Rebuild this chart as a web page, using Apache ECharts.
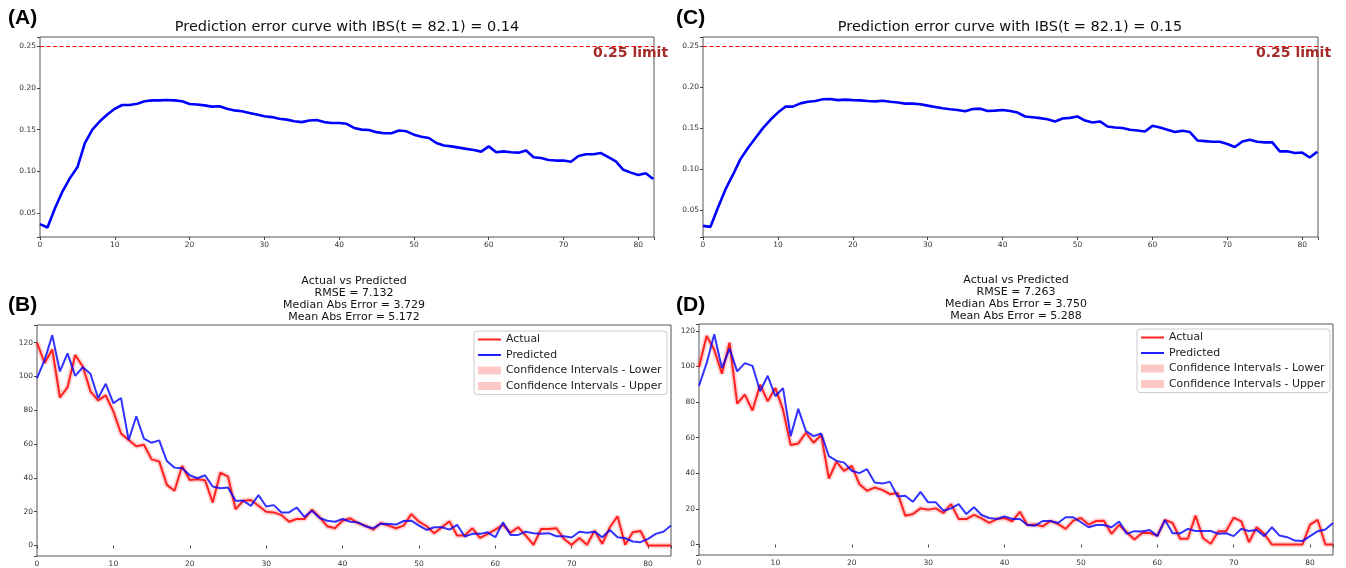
<!DOCTYPE html>
<html><head><meta charset="utf-8">
<script src="https://cdn.jsdelivr.net/npm/echarts@6/dist/echarts.min.js"></script>
<style>html,body{margin:0;padding:0;background:#fff}#c{width:1346px;height:568px}</style>
</head><body><div id="c"></div>
<script>
// ---------- DATA ----------
// Panel A / C : prediction error curve (time 0..82)
const ibsA = [0.037,0.033,0.056,0.076,0.092,0.105,0.134,0.150,0.160,0.168,0.175,0.1795,0.1795,0.181,0.184,0.185,0.185,0.1855,0.185,0.184,0.1807,0.180,0.179,0.1775,0.178,0.175,0.173,0.172,0.170,0.168,0.166,0.165,0.163,0.162,0.160,0.159,0.161,0.1615,0.159,0.158,
0.158,0.157,0.152,0.150,0.1496,0.147,0.1456,0.1456,0.149,0.148,0.144,0.1416,0.140,0.134,0.131,0.130,0.1285,0.127,0.1257,0.1237,0.130,0.123,0.124,0.123,0.1225,0.125,0.117,0.116,0.1137,0.113,0.113,0.1117,0.1185,0.1205,0.1205,0.122,0.117,0.112,0.102,0.0986,0.0958,0.0978,0.091];
const ibsC = [0.0306,0.0294,0.053,0.075,0.093,0.112,0.1256,0.1377,0.1498,0.160,0.1688,0.176,0.176,0.180,0.182,0.183,0.185,0.1854,0.184,0.1846,0.184,0.1837,0.183,0.1825,0.1833,0.182,0.181,0.1797,0.1797,0.179,0.1773,0.1757,0.174,0.1728,0.172,0.1704,0.1732,0.1736,0.1708,0.1712,
0.172,0.1708,0.1688,0.164,0.163,0.162,0.1607,0.158,0.1615,0.1623,0.164,0.159,0.1567,0.158,0.1518,0.1506,0.150,0.1478,0.147,0.1458,0.1526,0.1506,0.1478,0.145,0.1466,0.145,0.1348,0.134,0.1332,0.1332,0.1304,0.1268,0.1336,0.1357,0.1332,0.1324,0.1324,0.1215,0.1215,0.1195,0.120,0.114,0.121];
const limitValue = 0.25;

// Panel B / D : actual vs predicted (time 0..83)
const actualB = [120,108,116,87.6,93.7,112.7,105.9,91.2,85.9,88.8,79.4,66.3,62.4,58.8,59.6,51,49.8,35.9,32.4,47.1,38.8,39.2,38.6,25.5,43.1,40.8,21.5,26.5,26.9,23.5,20,19.6,18,14.1,15.7,15.7,21.2,16.7,11.4,10.2,14.7,16.1,13.3,11.8,9.4,13.3,11.8,10.2,11.8,18.6,14.1,11.4,7.3,10.8,14.3,5.9,5.9,10.2,4.5,6.9,9.4,12.2,7.6,10.8,5.9,0.4,9.8,9.8,10.2,3.9,0.4,4.5,0.4,8.8,1,10.8,17.3,0.4,7.8,8.6,0,0,0,0];
const predB = [99,109.8,124.5,103,113.7,100.4,105.5,101.6,87.3,95.7,84.3,87.3,62.4,76.5,63.3,60.8,62.2,50,46.1,45.7,41.6,39.8,41.6,34.9,33.9,34.3,26.5,26.5,23.5,29.8,23.1,23.9,19.6,19.6,22.5,16.9,20.6,16.3,14.7,14.1,15.7,14.1,13.7,11.4,10.2,12.9,12.7,12.4,14.5,14.7,11.8,9.2,10.8,10.8,9.4,12.2,5.3,6.9,6.9,7.8,4.9,13.7,6.3,6.3,8.2,7.3,6.9,7.3,5.5,5.5,4.7,8.2,7.6,8.2,4.9,9.2,4.9,4.3,2.4,2,3.9,6.9,8.2,11.8];
const actualD = [99.7,117.2,109.4,96,113.5,79.2,84.2,75.3,89.8,80.5,87.9,75.8,55.9,56.8,62.8,57.2,61.5,37.1,46.4,41.4,44.2,33.9,30.2,32,30.7,28.3,28.9,16.2,17.1,20.3,19.6,20.3,17.7,22.7,14.3,14.3,16.6,14.7,12.1,14.3,14.9,13,18.4,11,11.2,10.2,13.2,11.6,8.8,13.4,14.9,11.2,13.2,13.4,6,11,6.9,2.8,6.5,6.5,5,13.8,12.1,3.2,3.2,16.2,3.5,0.4,7.5,7.5,15.1,13,1.3,9.7,6,0,0,0,0,0,11.2,13.8,0,0];
const predD = [89.2,101.9,118.1,99.1,110.1,97.3,101.9,100.4,86.1,94.8,83.3,87.9,60.9,76.2,63.7,60.9,62.4,49.7,47,46,41.4,40.1,42.3,34.8,34.3,35.2,27,27.4,24,29.6,23.7,23.7,19,20.3,22.7,17.1,20.9,16.6,14.9,14.3,15.8,14.3,14.3,11,10.6,13.2,13.2,12.1,15.3,15.3,12.5,9.7,11,11,9.7,12.9,6,7.5,7.3,8.2,4.7,13.8,6.3,6.3,8.8,7.6,7.6,7.6,6,6.3,4.7,8.8,7.6,8.2,4.7,9.7,5,4.1,2.2,1.9,4.7,7.5,8.4,12.1];

// Text
const titleA = 'Prediction error curve with IBS(t = 82.1) = 0.14';
const titleC = 'Prediction error curve with IBS(t = 82.1) = 0.15';
const titleB = ['Actual vs Predicted','RMSE = 7.132','Median Abs Error = 3.729','Mean Abs Error = 5.172'];
const titleD = ['Actual vs Predicted','RMSE = 7.263','Median Abs Error = 3.750','Mean Abs Error = 5.288'];
const legendNames = ['Actual','Predicted','Confidence Intervals - Lower','Confidence Intervals - Upper'];
const panelLabels = ['(A)','(B)','(C)','(D)'];
const limitLabel = '0.25 limit';

// ---------- CHART ----------
const FONT = 'DejaVu Sans';
const pairs = arr => arr.map((v,i)=>[i,v]);
const isMult = (v,s) => Math.abs(v/s - Math.round(v/s)) < 1e-6;

function xAx(grid, max){
  return {type:'value', gridIndex:grid, min:0, max:max, splitNumber:8,
    axisLine:{show:false}, splitLine:{show:false},
    axisTick:{show:true, length:3, lineStyle:{color:'#444'}},
    axisLabel:{fontFamily:FONT, fontSize:7.5, color:'#333', margin:4,
      formatter:v=> isMult(v,10) ? String(Math.round(v)) : ''}};
}
function yAx(grid, min, max, split, step, dec){
  return {type:'value', gridIndex:grid, min:min, max:max, splitNumber:split,
    axisLine:{show:false}, splitLine:{show:false},
    axisTick:{show:true, length:3, lineStyle:{color:'#444'}},
    axisLabel:{fontFamily:FONT, fontSize:7.5, color:'#333', margin:4,
      formatter:v=> isMult(v,step) ? v.toFixed(dec) : ''}};
}
const gridBase = {show:true, borderColor:'#555', borderWidth:1, backgroundColor:'#fff', containLabel:false};

function ibsSeries(idx, data){
  return {type:'line', xAxisIndex:idx, yAxisIndex:idx, data:pairs(data), showSymbol:false, symbol:'none',
    lineStyle:{color:'#0000ff', width:2.6}, silent:true, z:3,
    markLine:{silent:true, symbol:'none', label:{show:false},
      lineStyle:{color:'#ff0000', type:[4,2.5], width:1.1}, data:[{yAxis:limitValue}]}};
}
function avpSeries(idx, act, pred){
  return [
    {name:legendNames[2], type:'line', xAxisIndex:idx, yAxisIndex:idx, data:pairs(act), showSymbol:false, symbol:'none',
      lineStyle:{color:'rgba(255,80,80,0.13)', width:5.5}, itemStyle:{color:'#ffc8c8'}, z:1, silent:true},
    {name:legendNames[3], type:'line', xAxisIndex:idx, yAxisIndex:idx, data:pairs(act), showSymbol:false, symbol:'none',
      lineStyle:{color:'rgba(255,80,80,0.13)', width:5.5}, itemStyle:{color:'#ffc8c8'}, z:1, silent:true},
    {name:legendNames[0], type:'line', xAxisIndex:idx, yAxisIndex:idx, data:pairs(act), showSymbol:false, symbol:'none',
      lineStyle:{color:'rgba(255,0,0,0.85)', width:2}, itemStyle:{color:'#ff0000'}, z:3, silent:true},
    {name:legendNames[1], type:'line', xAxisIndex:idx, yAxisIndex:idx, data:pairs(pred), showSymbol:false, symbol:'none',
      lineStyle:{color:'rgba(0,0,255,0.8)', width:2}, itemStyle:{color:'#0000ff'}, z:4, silent:true}
  ];
}
const lineIcon = 'path://M0,0 L46,0 L46,4 L0,4 Z';
function legendAt(left, top){
  return {orient:'vertical', left:left, top:top, padding:[3,5,3,4], itemGap:4.5, itemWidth:23, itemHeight:8,
    symbolKeepAspect:true,
    backgroundColor:'#fff', borderColor:'#ccc', borderWidth:1, borderRadius:3, selectedMode:false,
    textStyle:{fontFamily:FONT, fontSize:10.9, color:'#222'},
    data:[{name:legendNames[0], icon:lineIcon, itemStyle:{color:'#ff2020'}},
      {name:legendNames[1], icon:lineIcon, itemStyle:{color:'#2020ff'}},
      {name:legendNames[2], icon:'rect', itemStyle:{color:'#ffc8c8'}},
      {name:legendNames[3], icon:'rect', itemStyle:{color:'#ffc8c8'}}]};
}
function titleAt(text, cx, top, size, lh){
  return {text:text, left:cx, top:top, textAlign:'center', padding:0,
    textStyle:{fontFamily:FONT, fontSize:size, fontWeight:'normal', color:'#111', lineHeight:lh}};
}
function label(text, x, y, opts){
  return Object.assign({type:'text', left:x, top:y, silent:true,
    style:{text:text, fill:'#000', font:'bold 21px "Liberation Sans", Arial, sans-serif'}}, opts||{});
}

const option = {
  animation:false,
  backgroundColor:'#fff',
  title:[
    titleAt(titleA, 347, 19, 14.5, 17),
    titleAt(titleC, 1010, 19, 14.5, 17),
    titleAt(titleB.join('\n'), 354, 275, 11, 12),
    titleAt(titleD.join('\n'), 1016, 274, 11, 12)
  ],
  grid:[
    Object.assign({left:40, top:37, width:614, height:200}, gridBase),
    Object.assign({left:703, top:37, width:615, height:200}, gridBase),
    Object.assign({left:37, top:325, width:634, height:231}, gridBase),
    Object.assign({left:699, top:324, width:634, height:231}, gridBase)
  ],
  xAxis:[xAx(0,82.1), xAx(1,82.1), xAx(2,83), xAx(3,83)],
  yAxis:[yAx(0,0.0216,0.2608,5,0.05,2), yAx(1,0.017,0.261,5,0.05,2),
         yAx(2,-6.2,130.5,7,20,0), yAx(3,-5.9,123.9,6,20,0)],
  legend:[legendAt(474,331), legendAt(1137,329)],
  series:[ibsSeries(0, ibsA), ibsSeries(1, ibsC)]
    .concat(avpSeries(2, actualB, predB)).concat(avpSeries(3, actualD, predD)),
  graphic:[
    label(panelLabels[0], 8, 8),
    label(panelLabels[1], 8, 295),
    label(panelLabels[2], 676, 8),
    label(panelLabels[3], 676, 295),
    {type:'text', left:593, top:46, silent:true, style:{text:limitLabel, fill:'#a52a2a', font:'bold 14px "DejaVu Sans"'}},
    {type:'text', left:1256, top:46, silent:true, style:{text:limitLabel, fill:'#a52a2a', font:'bold 14px "DejaVu Sans"'}}
  ]
};
const chart = echarts.init(document.getElementById('c'), null, {renderer:'canvas'});
chart.setOption(option);
</script></body></html>
